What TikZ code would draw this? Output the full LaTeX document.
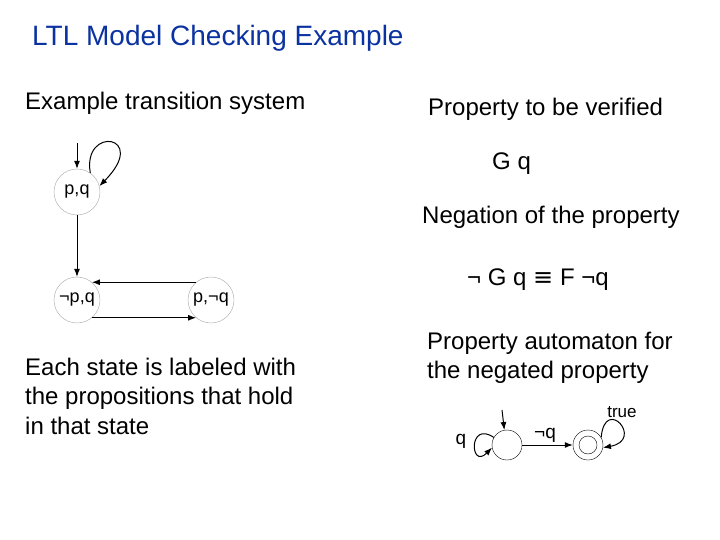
\documentclass[tikz,border=0pt]{standalone}
\usepackage{fontspec}
\setmainfont{Liberation Sans}
\newfontfamily\dejavu{DejaVu Sans}
\usetikzlibrary{arrows.meta}
\definecolor{ttl}{RGB}{10,50,160}
\begin{document}
\begin{tikzpicture}[x=1pt,y=-1pt,
  st/.style={circle,draw=black!35,minimum size=46pt,inner sep=0pt,font=\fontsize{18}{18}\selectfont},
  au/.style={circle,draw,minimum size=30pt,inner sep=0pt},
  txt/.style={anchor=west,inner sep=0pt,font=\fontsize{24}{29.5}\selectfont,align=left},
  ar/.style={-{Latex[length=8pt,width=6pt]},line width=1pt}]
\useasboundingbox (0,0) rectangle (720,540);
\node[txt,text=ttl,font=\fontsize{28}{32}\selectfont] (title) at (32,38) {LTL Model Checking Example};
\node[txt] (t1) at (25,103) {Example transition system};
\node[txt] (t2) at (428,109) {Property to be verified};
\node[txt] (t3) at (492,164) {G q};
\node[txt] (t4) at (422,217) {Negation of the property};
\node[txt] (t5) at (467,280) {¬ G q {\dejavu ≡} F ¬q};
\node[txt] (t6) at (25,396) {Each state is labeled with\\the propositions that hold\\in that state};
\node[txt] (t7) at (427,358) {Property automaton for\\the negated property};
% transition system
\node[st] (a) at (77,192) {p,q};
\node[st] (b) at (77,300) {¬p,q};
\node[st] (c) at (211,300) {p,¬q};
\coordinate (ai) at (77,143);
\draw[ar] (ai) -- (a.north);
\draw[ar] (a) -- (b);
\draw[ar] (a.55) .. controls (82,125) and (150,135) .. (a.15);
\draw[ar] (c.130) -- (b.50);
\draw[ar] (b.-50) -- (c.-130);
% automaton
\node[au] (s) at (507,445) {};
\node[au] (f) at (588,445) {};
\node[circle,draw,minimum size=18pt,inner sep=0pt] (fi) at (588,445) {};
\coordinate (si) at (502,410);
\draw[ar] (si) -- (s.100);
\draw[ar] (s) -- (f);
\draw[ar] (s.150) .. controls (468,420) and (470,470) .. (s.190);
\draw[ar] (f.30) .. controls (605,395) and (645,440) .. (f.-10);
\node[font=\fontsize{19}{19}\selectfont] (lq) at (461,441) {q};
\node[font=\fontsize{19}{19}\selectfont] (lnq) at (545,435) {¬q};
\node[font=\fontsize{17}{17}\selectfont] (lt) at (622,412) {true};
\end{tikzpicture}
\end{document}
